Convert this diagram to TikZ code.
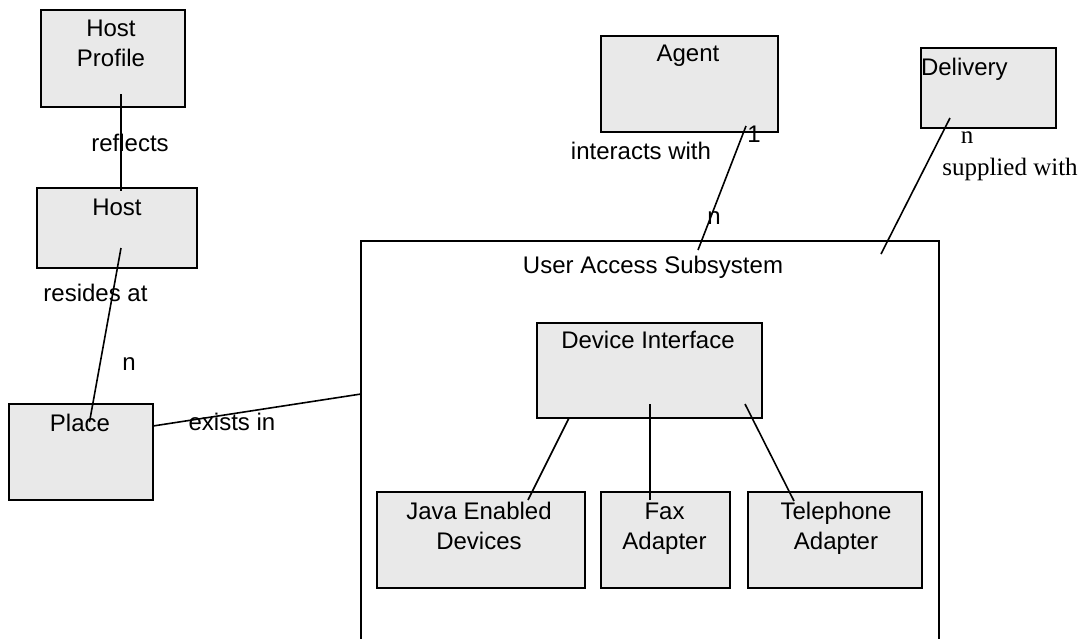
\documentclass[tikz,border=0pt]{standalone}
\usepackage{fontspec}
\setmainfont{Liberation Sans}
\newfontfamily\serifface{Liberation Serif}
\definecolor{boxfill}{RGB}{233,233,233}
\begin{document}
\begin{tikzpicture}[x=1pt,y=-1pt,
  box/.style={draw=black,fill=boxfill,line width=1.6pt,inner sep=0pt,outer sep=0pt,anchor=north west},
  frame/.style={draw=black,line width=1.6pt,inner sep=0pt,outer sep=0pt,anchor=north west},
  link/.style={draw=black,line width=1.6pt},
  txt/.style={inner sep=0pt,outer sep=0pt,anchor=base,align=center,font=\fontsize{24}{29.5}\selectfont},
  stxt/.style={inner sep=0pt,outer sep=0pt,anchor=base,font=\serifface\fontsize{25}{30}\selectfont}]
\useasboundingbox (0,0) rectangle (1085,638);
\clip (0,0) rectangle (1085,638);

% entity boxes
\node[box,minimum width=144pt,minimum height=97pt] (hp) at (41,10) {};
\node[box,minimum width=160pt,minimum height=80pt] (host) at (37,188) {};
\node[box,minimum width=144pt,minimum height=96pt] (place) at (9,404) {};
\node[box,minimum width=177pt,minimum height=96pt] (agent) at (601,36) {};
\node[box,minimum width=135pt,minimum height=80pt] (deliv) at (921,48) {};

% subsystem frame and its parts
\node[frame,minimum width=578pt,minimum height=420pt] (uas) at (361,241) {};
\node[box,minimum width=225pt,minimum height=95pt] (di) at (537,323) {};
\node[box,minimum width=208pt,minimum height=96pt] (java) at (377,492) {};
\node[box,minimum width=129pt,minimum height=96pt] (fax) at (601,492) {};
\node[box,minimum width=174pt,minimum height=96pt] (tel) at (748,492) {};

% connector end points
\coordinate (hpA) at (121,94);   \coordinate (hostA) at (121,191);
\coordinate (hostB) at (121,248); \coordinate (placeA) at (89.5,422);
\coordinate (placeB) at (153,426); \coordinate (uasA) at (361,394);
\coordinate (agentA) at (746,126); \coordinate (uasB) at (698,250);
\coordinate (delivA) at (950,118); \coordinate (uasC) at (881,254);
\coordinate (diA) at (569,418);  \coordinate (javaA) at (528,500);
\coordinate (diB) at (650,404); \coordinate (faxA) at (650,500);
\coordinate (diC) at (745,404);  \coordinate (telA) at (794,501);

\draw[link] (hpA) -- (hostA);
\draw[link] (hostB) -- (placeA);
\draw[link] (placeB) -- (uasA);
\draw[link] (agentA) -- (uasB);
\draw[link] (delivA) -- (uasC);
\draw[link] (diA) -- (javaA);
\draw[link] (diB) -- (faxA);
\draw[link] (diC) -- (telA);

% box titles (multi-line titles are placed by their last baseline)
\node[txt] (hpT) at (111,66) {Host\\Profile};
\node[txt] (hostT) at (117,215.5) {Host};
\node[txt] (placeT) at (80,431.5) {Place};
\node[txt] (agentT) at (688,61) {Agent};
\node[txt,anchor=base west] (delivT) at (921,75.5) {Delivery};
\node[txt] (uasT) at (653,273.5) {User Access Subsystem};
\node[txt] (diT) at (648,348.5) {Device Interface};
\node[txt] (javaT) at (479,549) {Java Enabled\\Devices};
\node[txt] (faxT) at (664.5,549) {Fax\\Adapter};
\node[txt] (telT) at (836,549) {Telephone\\Adapter};

% relationship labels
\node[txt] (l1) at (130,151.5) {reflects};
\node[txt] (l2) at (95.5,301.5) {resides at};
\node[txt] (l3) at (129,370) {n};
\node[txt] (l4) at (232,430) {exists in};
\node[txt] (l5) at (641,159) {interacts with};
\node[txt] (l6) at (754,142.5) {1};
\node[txt] (l7) at (714,224) {n};
\node[stxt] (l8) at (967,143.5) {n};
\node[stxt] (l9) at (1010,175) {supplied with};
\end{tikzpicture}
\end{document}
